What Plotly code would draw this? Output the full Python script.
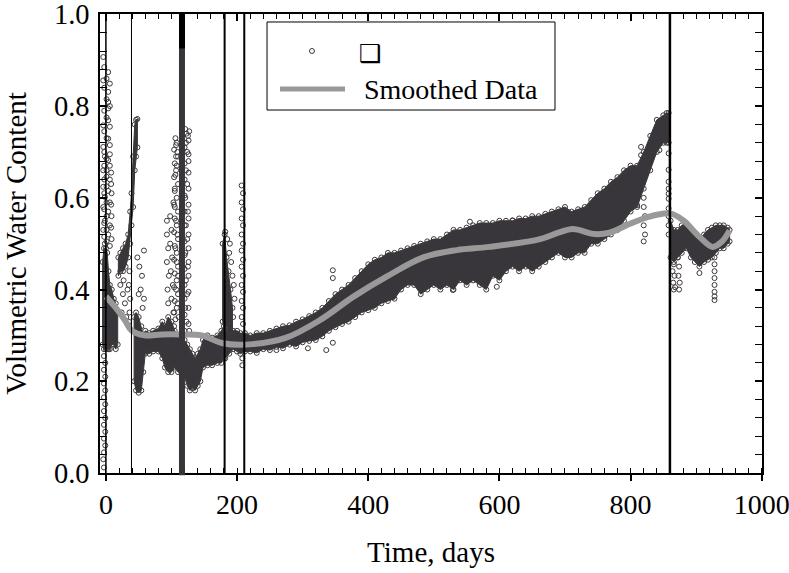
import plotly.graph_objects as go

# ---------------- data ----------------
# dense band of measurements: segment id, day, lower and upper edge
env_seg = [0]*10 + [1]*11 + [2]*29 + [3]*6 + [4]*72 + [5]*16
env_day = [
    -5, -3, 0, 2, 4, 6, 9, 12, 15, 18,
    19, 22, 26, 30, 34, 37, 39, 41.5, 44, 46, 48,
    43, 46, 50, 54, 57, 60, 66, 72, 80, 86, 90, 95, 100, 105, 110, 115, 120, 124, 128, 132, 136, 140, 144, 148, 155, 162, 170, 176, 180,
    178, 181, 184, 187, 190, 193,
    182, 188, 194, 200, 205, 212, 220, 230, 240, 250, 260, 270, 280, 290, 300, 310, 320, 330, 340, 350,
    360, 370, 380, 390, 400, 410, 420, 430, 440, 450, 460, 470, 480, 490, 500, 510, 520, 530, 540, 550,
    560, 570, 580, 590, 600, 610, 620, 630, 640, 650, 660, 670, 680, 690, 700, 710, 720, 730, 740, 750,
    760, 770, 780, 790, 800, 810, 820, 830, 840, 850, 855, 858,
    861, 866, 872, 878, 885, 892, 898, 905, 912, 918, 924, 930, 936, 942, 948, 951,
]
env_lo = [
    0.28, 0.27, 0.27, 0.27, 0.27, 0.27, 0.28, 0.28, 0.27, 0.28,
    0.43, 0.44, 0.44, 0.45, 0.47, 0.50, 0.54, 0.58, 0.66, 0.69, 0.71,
    0.20, 0.18, 0.175, 0.18, 0.22, 0.26, 0.26, 0.265, 0.265, 0.25, 0.23, 0.22, 0.22, 0.23, 0.22, 0.22, 0.21, 0.19, 0.18, 0.185, 0.18, 0.19, 0.20, 0.23, 0.235, 0.235, 0.24, 0.24, 0.25,
    0.33, 0.31, 0.32, 0.31, 0.31, 0.30,
    0.25, 0.26, 0.27, 0.265, 0.26, 0.265, 0.265, 0.262, 0.27, 0.268, 0.275, 0.272, 0.28, 0.276, 0.285, 0.288, 0.29, 0.298, 0.31, 0.318,
    0.325, 0.33, 0.34, 0.35, 0.355, 0.36, 0.37, 0.375, 0.38, 0.40, 0.41, 0.41, 0.39, 0.40, 0.41, 0.40, 0.41, 0.40, 0.42, 0.41,
    0.42, 0.41, 0.40, 0.43, 0.42, 0.44, 0.45, 0.44, 0.45, 0.44, 0.45, 0.46, 0.47, 0.48, 0.47, 0.47, 0.48, 0.48, 0.50, 0.50,
    0.51, 0.52, 0.53, 0.55, 0.57, 0.58, 0.62, 0.66, 0.70, 0.72, 0.72, 0.72,
    0.47, 0.46, 0.47, 0.48, 0.49, 0.47, 0.46, 0.45, 0.46, 0.465, 0.47, 0.48, 0.49, 0.49, 0.50, 0.505,
]
env_hi = [
    0.46, 0.49, 0.49, 0.48, 0.44, 0.41, 0.40, 0.38, 0.37, 0.35,
    0.47, 0.48, 0.49, 0.50, 0.52, 0.57, 0.61, 0.69, 0.76, 0.77, 0.772,
    0.34, 0.35, 0.34, 0.32, 0.30, 0.31, 0.305, 0.31, 0.315, 0.33, 0.32, 0.34, 0.33, 0.31, 0.30, 0.30, 0.29, 0.28, 0.27, 0.26, 0.25, 0.26, 0.27, 0.29, 0.30, 0.295, 0.30, 0.31, 0.32,
    0.50, 0.52, 0.47, 0.44, 0.40, 0.36,
    0.31, 0.31, 0.31, 0.31, 0.305, 0.305, 0.30, 0.305, 0.305, 0.31, 0.315, 0.32, 0.322, 0.33, 0.335, 0.342, 0.35, 0.36, 0.375, 0.39,
    0.40, 0.41, 0.425, 0.44, 0.455, 0.465, 0.47, 0.48, 0.48, 0.485, 0.49, 0.495, 0.50, 0.505, 0.51, 0.51, 0.52, 0.53, 0.53, 0.535,
    0.54, 0.545, 0.545, 0.545, 0.55, 0.55, 0.55, 0.555, 0.555, 0.56, 0.56, 0.565, 0.57, 0.575, 0.58, 0.57, 0.575, 0.58, 0.595, 0.61,
    0.62, 0.635, 0.645, 0.66, 0.67, 0.67, 0.70, 0.735, 0.77, 0.78, 0.785, 0.785,
    0.55, 0.53, 0.53, 0.54, 0.545, 0.53, 0.52, 0.51, 0.52, 0.53, 0.535, 0.54, 0.54, 0.54, 0.535, 0.53,
]

# scattered single measurements outside the dense band
out_day = [
    -4, 3.5, -4, 6, 3.5, 3.5, 3.5, 3.5, -4, 3.5, -4, -1.5, 3.5, 6, -4, 1, 6, -4, 3.5, 8.6, -1.5, 6, -4, 3.5, 8.6, -1.5, 6, -4, 3.5, 8.6, -1.5,
    -2.5, 1, -2.5, 1, 6, -2.5, 1, 6, -2.5, 1, 6, -2.5, 1, 6, -2.5, 1, 8, -2.5, 1, 8, -2.5, 1, 8, -2.5, 1, -2.5, 1, 8, -2.5, 1, 6,
    -3, -1, -3, -1, -3, -1, -3, -1, -3, -1, -3, -1, -3, -1, -3, -4, -3,
    22, 26, 29, 24, 31, 27, 36, 35, 37, 36, 35, 33,
    48, 51, 55, 58, 53, 58, 56, 50,
    93, 93, 95, 93, 96, 94, 95, 98, 100, 98, 101, 99, 102, 100, 103, 103, 105, 106, 107, 108, 106, 109, 108, 105, 107, 109, 106, 108, 110, 107, 109, 111,
    104, 106, 104, 108, 105, 110, 104, 108, 105, 110, 104, 108, 105, 110, 104, 108, 105, 110, 104, 108, 105, 110, 104, 107, 105, 110, 104, 107,
    121, 123, 125, 122, 124, 126, 122, 124, 121, 125, 122, 124, 121, 125, 122, 124, 121, 123, 127,
    120, 126, 120, 126, 120, 126, 120, 126, 120, 126, 120, 126, 120, 126, 120, 126, 120, 126, 120, 126, 120, 126, 120, 126, 120, 126, 127,
    182, 185, 188, 191, 193, 195, 189, 196, 194,
    207, 209, 207, 209, 207, 209, 207, 209, 207, 209, 207, 209, 207, 209, 207, 209, 207, 209, 208, 208,
    346, 346, 260, 308, 336, 346, 438, 529, 596, 555, 620,
    816, 816, 810, 820, 820, 822, 820, 822, 820, 844,
    858, 858, 858, 858, 858, 858, 858, 858, 858, 858,
    864, 866, 864, 867, 865, 868, 866, 872, 874, 873, 875, 874, 905,
    928, 928, 928, 928, 928, 928, 928, 928,
]
out_val = [
    0.907, 0.874, 0.856, 0.849, 0.831, 0.809, 0.795, 0.769, 0.758, 0.729, 0.711, 0.69, 0.682, 0.67, 0.66, 0.646, 0.64, 0.624, 0.615, 0.61, 0.602, 0.59, 0.58, 0.57, 0.56, 0.55, 0.54, 0.53, 0.52, 0.51, 0.50,
    0.885, 0.86, 0.84, 0.815, 0.80, 0.79, 0.775, 0.755, 0.745, 0.73, 0.715, 0.70, 0.685, 0.695, 0.67, 0.66, 0.655, 0.64, 0.625, 0.63, 0.61, 0.59, 0.585, 0.575, 0.56, 0.545, 0.53, 0.535, 0.515, 0.505, 0.495,
    0.255, 0.24, 0.225, 0.21, 0.195, 0.18, 0.165, 0.15, 0.135, 0.12, 0.105, 0.09, 0.075, 0.06, 0.045, 0.03, 0.012,
    0.41, 0.39, 0.37, 0.35, 0.34, 0.42, 0.44, 0.41, 0.38, 0.35, 0.33, 0.40,
    0.47, 0.45, 0.43, 0.485, 0.40, 0.38, 0.36, 0.39,
    0.55, 0.52, 0.49, 0.46, 0.43, 0.40, 0.37, 0.56, 0.53, 0.50, 0.47, 0.44, 0.41, 0.38, 0.35, 0.59, 0.62, 0.65, 0.69, 0.72, 0.73, 0.70, 0.67, 0.58, 0.55, 0.52, 0.49, 0.46, 0.43, 0.40, 0.37, 0.34,
    0.32, 0.335, 0.35, 0.36, 0.375, 0.39, 0.405, 0.42, 0.435, 0.45, 0.465, 0.48, 0.495, 0.51, 0.525, 0.54, 0.555, 0.57, 0.585, 0.60, 0.615, 0.63, 0.645, 0.66, 0.675, 0.69, 0.705, 0.715,
    0.75, 0.74, 0.735, 0.72, 0.70, 0.68, 0.66, 0.63, 0.60, 0.57, 0.54, 0.51, 0.48, 0.45, 0.42, 0.39, 0.36, 0.33, 0.31,
    0.31, 0.325, 0.345, 0.36, 0.38, 0.395, 0.41, 0.43, 0.445, 0.46, 0.475, 0.49, 0.505, 0.52, 0.54, 0.555, 0.57, 0.585, 0.605, 0.62, 0.64, 0.655, 0.675, 0.695, 0.71, 0.725, 0.745,
    0.526, 0.51, 0.48, 0.46, 0.43, 0.41, 0.50, 0.38, 0.34,
    0.627, 0.61, 0.59, 0.575, 0.555, 0.54, 0.52, 0.50, 0.485, 0.465, 0.45, 0.43, 0.41, 0.395, 0.375, 0.36, 0.34, 0.325, 0.25, 0.235,
    0.442, 0.425, 0.268, 0.272, 0.268, 0.284, 0.384, 0.399, 0.406, 0.548, 0.551,
    0.711, 0.693, 0.584, 0.60, 0.58, 0.56, 0.54, 0.52, 0.505, 0.704,
    0.697, 0.661, 0.635, 0.620, 0.609, 0.598, 0.577, 0.56, 0.54, 0.52,
    0.47, 0.455, 0.44, 0.43, 0.415, 0.405, 0.40, 0.47, 0.45, 0.43, 0.415, 0.40, 0.436,
    0.47, 0.455, 0.44, 0.425, 0.41, 0.395, 0.385, 0.377,
]

# smoothed curve
smooth_day = [0, 14, 29, 39, 59, 85, 115, 146, 178, 224, 275, 326, 377, 428, 484, 535, 585, 662, 690, 712,
              745, 768, 794, 824, 860, 880, 905, 925, 939, 951]
smooth_val = [0.385, 0.362, 0.333, 0.311, 0.300, 0.302, 0.302, 0.300, 0.283, 0.281, 0.295, 0.333, 0.384, 0.428,
              0.470, 0.486, 0.493, 0.510, 0.524, 0.532, 0.521, 0.524, 0.540, 0.557, 0.566, 0.551, 0.515, 0.493,
              0.504, 0.529]

# vertical marker lines (days)
vline_day = [0, 39, 116, 181, 211, 860]

x_ticks = [0, 200, 400, 600, 800, 1000]
y_ticks = [0.0, 0.2, 0.4, 0.6, 0.8, 1.0]
y_tick_text = ["0.0", "0.2", "0.4", "0.6", "0.8", "1.0"]

# ---------------- figure ----------------
DARK = "#38363a"
FONT = "Liberation Serif"

poly_x, poly_y = [], []
for s in sorted(set(env_seg)):
    idx = [i for i, g in enumerate(env_seg) if g == s]
    xs = [env_day[i] for i in idx]
    his = [env_hi[i] for i in idx]
    los = [env_lo[i] for i in idx]
    poly_x += xs + xs[::-1] + [xs[0], None]
    poly_y += his + los[::-1] + [his[0], None]

fig = go.Figure()

fig.add_trace(go.Scatter(x=poly_x, y=poly_y, mode="lines", fill="toself",
                         fillcolor=DARK, line=dict(color=DARK, width=1),
                         hoverinfo="skip", showlegend=False))
fig.add_trace(go.Scatter(x=env_day + env_day, y=env_lo + env_hi, mode="markers",
                         marker=dict(symbol="circle-open", size=5, color="#3e383b",
                                     line=dict(width=1, color="#3e383b")),
                         showlegend=False))
fig.add_trace(go.Scatter(x=out_day, y=out_val, mode="markers",
                         marker=dict(symbol="circle-open", size=5, color="#3e383b",
                                     line=dict(width=1, color="#3e383b")),
                         showlegend=False))
fig.add_trace(go.Scatter(x=smooth_day, y=smooth_val, mode="lines",
                         line=dict(color="#999999", width=6, shape="spline", smoothing=1.0),
                         showlegend=False))
# dummy trace to anchor the top tick axis
fig.add_trace(go.Scatter(x=[x_ticks[0]], y=[None], xaxis="x2", mode="markers", showlegend=False))

shapes = []
widths = [1.5, 1, 6, 2, 2, 2.5]
for d, w in zip(vline_day, widths):
    if w >= 6:
        shapes.append(dict(type="line", xref="x", yref="paper", x0=d, x1=d, y0=-0.005, y1=0.924,
                           line=dict(color=DARK, width=w), layer="above"))
        shapes.append(dict(type="line", xref="x", yref="paper", x0=d, x1=d, y0=0.924, y1=1.0,
                           line=dict(color="black", width=w), layer="above"))
    else:
        shapes.append(dict(type="line", xref="x", yref="paper", x0=d, x1=d, y0=0, y1=1,
                           line=dict(color="black", width=w), layer="above"))

# legend drawn by hand
shapes.append(dict(type="rect", xref="paper", yref="paper", x0=0.2523, x1=0.6873, y0=0.7908, y1=0.9826,
                   line=dict(color="black", width=1), fillcolor="white", layer="above"))
shapes.append(dict(type="circle", xref="paper", yref="paper", xsizemode="pixel", ysizemode="pixel",
                   xanchor=0.3202, yanchor=0.9194, x0=-2.5, x1=2.5, y0=-2.5, y1=2.5,
                   line=dict(color="#3e383b", width=1), layer="above"))
shapes.append(dict(type="line", xref="paper", yref="paper", x0=0.2719, x1=0.3701, y0=0.8366, y1=0.8366,
                   line=dict(color="#999999", width=5), layer="above"))

annotations = [
    dict(text="❑", xref="paper", yref="paper", x=0.4079, y=0.915, showarrow=False,
         font=dict(family="DejaVu Sans", size=25, color="black"), xanchor="center", yanchor="middle"),
    dict(text="Smoothed Data", xref="paper", yref="paper", x=0.3958, y=0.8366, showarrow=False,
         font=dict(family=FONT, size=28, color="black"), xanchor="left", yanchor="middle"),
]

fig.update_layout(
    width=789, height=573,
    margin=dict(l=100, r=27, t=14, b=100, autoexpand=False),
    paper_bgcolor="white", plot_bgcolor="white",
    font=dict(family=FONT, size=28, color="black"),
    shapes=shapes, annotations=annotations,
    showlegend=False,
    xaxis=dict(range=[-9, 1000.4], tickvals=x_ticks, ticktext=[str(v) for v in x_ticks],
               automargin=False,
               showgrid=False, zeroline=False, showline=True, linecolor="black", linewidth=1.5,
               mirror=True, ticks="outside", ticklen=6, tickwidth=1.5, tickcolor="black",
               ticklabeloverflow="allow",
               minor=dict(dtick=20, tick0=0, ticks="inside", ticklen=5, tickwidth=1, tickcolor="black", showgrid=False),
               title=dict(text="Time, days", standoff=22, font=dict(size=29)),
               tickfont=dict(size=28)),
    xaxis2=dict(range=[-9, 1000.4], overlaying="x", side="top", anchor="y", showticklabels=False,
                automargin=False,
                tickvals=x_ticks, showgrid=False, zeroline=False, showline=False,
                ticks="inside", ticklen=7, tickwidth=1.5, tickcolor="black",
                minor=dict(dtick=20, tick0=0, ticks="inside", ticklen=5, tickwidth=1, tickcolor="black", showgrid=False)),
    yaxis=dict(range=[0, 1.0008], tickvals=y_ticks, ticktext=y_tick_text,
               automargin=False,
               showgrid=False, zeroline=False, showline=True, linecolor="black", linewidth=1.5,
               mirror="allticks", ticks="inside", ticklen=7, tickwidth=1.5, tickcolor="black",
               ticklabeloverflow="allow", ticklabelstandoff=3,
               minor=dict(dtick=0.04, tick0=0, ticks="inside", ticklen=5, tickwidth=1, tickcolor="black", showgrid=False),
               title=dict(text="Volumetric Water Content", standoff=20, font=dict(size=29)),
               tickfont=dict(size=28.5)),
)

fig.write_html("out.html")
